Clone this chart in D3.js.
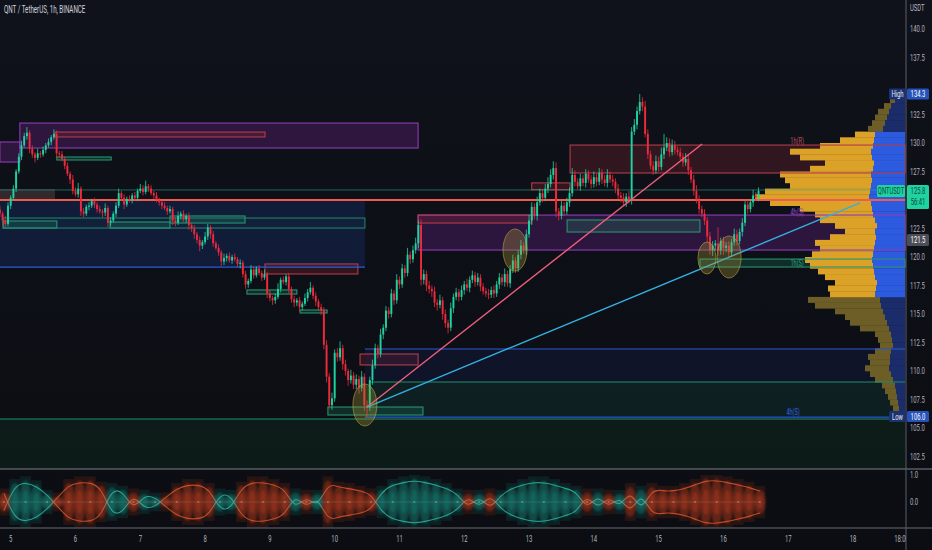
<!DOCTYPE html>
<html><head><meta charset="utf-8">
<script src="https://cdn.jsdelivr.net/npm/d3@7"></script>
<style>
html,body{margin:0;padding:0;background:#0e1017;overflow:hidden}
svg{display:block}
text{font-family:Roboto,"Liberation Sans",sans-serif}
</style>
</head><body>
<svg id="c" width="932" height="550"></svg>
<script>
// ---------------- DATA ----------------
const title = "QNT / TetherUS, 1h, BINANCE";
const firstHour = -4;          // first candle: day 4, 20:00 (hours from day 5 00:00)
const firstOpen = 124.2;
const closes = [
123.8,123.2,122.9,124.5,125.2,126.0,127.5,128.8,129.8,130.6,130.9,129.5,
129.0,128.7,129.1,129.0,129.4,129.8,130.1,130.5,130.8,129.1,129.0,128.6,
128.0,127.3,126.8,125.8,125.5,126.0,124.0,123.8,124.4,124.5,124.9,124.6,
124.2,124.0,123.9,124.3,123.0,123.2,123.8,124.5,125.6,125.2,124.6,125.1,
125.0,125.4,125.2,125.8,126.0,125.7,126.2,126.0,125.6,125.4,125.0,124.8,
124.5,124.3,124.0,124.2,123.2,123.0,123.6,123.8,123.3,123.6,122.8,122.5,
122.0,121.5,121.0,121.3,121.8,122.6,122.0,121.2,120.8,120.4,119.6,119.9,
120.1,119.7,120.0,119.8,119.4,119.5,118.5,117.6,117.9,118.9,118.4,119.0,
118.6,118.2,118.5,116.8,116.4,116.2,116.5,117.2,118.0,117.8,118.3,117.2,
116.3,116.0,116.2,115.6,115.9,116.4,116.9,117.3,116.6,116.1,115.6,115.3,
112.3,109.5,107.0,107.6,111.6,111.2,112.0,110.6,110.0,109.2,109.6,108.8,
109.3,108.5,109.5,107.0,106.8,109.2,110.5,112.0,111.5,113.2,113.8,115.3,
115.0,116.8,116.2,118.0,117.6,119.0,118.6,120.2,119.8,120.6,121.2,122.8,
118.0,118.5,117.5,117.2,117.0,116.0,115.8,116.2,115.0,114.2,113.8,115.5,
116.5,116.9,116.5,117.1,117.6,117.3,118.0,118.4,117.8,118.2,117.4,117.0,
116.8,116.7,117.1,116.8,117.6,118.2,117.8,118.5,117.7,118.9,119.7,119.0,
120.2,121.0,120.6,122.0,123.2,124.4,123.6,124.8,125.6,125.2,126.0,126.4,
127.2,127.8,124.0,123.6,124.5,124.0,124.8,125.6,127.2,126.6,126.2,126.9,
126.5,127.3,126.8,126.4,127.0,126.6,127.4,126.8,126.5,127.2,126.8,126.6,
126.0,125.4,125.2,124.8,125.3,125.0,131.0,131.6,132.8,133.6,133.2,130.8,
129.0,128.0,127.6,128.4,127.9,129.0,129.6,130.0,129.2,129.8,129.4,129.2,
128.8,128.3,128.6,127.6,126.8,125.8,125.0,124.2,123.8,123.2,121.8,120.6,
121.0,121.2,120.6,121.4,120.8,121.0,120.4,121.3,122.0,121.4,122.2,123.0,
124.6,124.2,124.8,125.4,125.2,125.8
];
// upper / lower wick lengths, in tenths of a USDT
const wickHi = [
3,2,4,3,2,3,2,3,4,3,5,2, 3,2,4,2,3,2,3,2,4,3,2,3, 2,3,2,4,3,5,2,3,2,3,2,3,
2,3,2,4,2,3,2,3,4,2,3,2, 3,2,3,2,4,3,5,2,3,2,3,2, 2,3,2,3,2,3,4,2,3,2,3,2,
3,2,3,2,4,3,2,3,2,3,2,4, 2,3,2,3,2,3,2,3,2,4,3,2, 3,2,4,2,3,2,3,5,2,3,2,3,
2,3,2,3,2,4,3,5,2,3,2,3, 3,4,3,5,3,4,6,3,4,2,5,3, 4,3,5,3,4,3,5,4,3,5,3,4,
3,4,3,5,3,4,3,6,3,4,5,4, 5,4,3,4,3,4,3,5,3,4,3,5, 3,4,3,4,3,5,3,4,3,4,3,3,
3,4,3,4,3,4,3,5,3,4,5,3, 4,5,3,4,5,4,3,5,4,3,4,6, 5,6,5,3,4,3,4,5,6,4,3,4,
3,4,3,4,5,3,4,3,4,5,3,4, 3,4,3,4,3,5,4,5,4,7,4,5, 4,3,4,5,4,6,12,5,4,5,4,3,
4,3,5,4,3,4,5,4,3,4,3,4, 4,3,14,3,4,3,4,3,5,4,3,4, 3,4,3,5,3,3
];
const wickLo = [
3,4,3,2,3,2,3,2,3,2,3,4, 3,4,2,3,2,3,2,3,2,4,3,2, 3,2,4,3,2,3,4,3,2,3,2,3,
3,2,4,3,4,3,2,3,2,3,4,2, 2,3,2,3,2,3,2,3,2,3,2,3, 3,2,3,2,4,3,2,3,2,3,4,3,
4,3,5,3,2,3,4,3,2,3,4,3, 3,2,3,2,3,4,3,4,3,2,3,2, 2,3,2,4,3,4,3,2,3,2,3,4,
3,4,3,4,3,2,3,2,3,4,3,4, 4,5,3,4,3,4,3,5,4,5,3,4, 4,5,3,5,8,3,4,3,4,3,4,3,
4,3,4,3,4,3,4,3,4,3,3,4, 5,4,5,4,5,4,5,3,5,4,5,3, 4,3,4,3,4,3,4,3,4,3,4,3,
3,4,3,4,3,4,3,4,3,4,3,4, 3,4,3,4,3,4,3,4,3,4,3,4, 3,4,5,4,3,4,3,4,3,4,3,4,
3,4,3,4,3,4,3,4,3,4,3,4, 4,3,4,3,4,3,4,3,4,3,4,3, 4,3,4,3,4,3,4,3,4,3,4,3,
3,4,3,4,3,4,3,4,3,4,5,4, 5,4,5,4,6,4,5,4,3,4,3,4, 3,4,3,4,3,3
];

// supply / demand zones: time in hours from day 5 00:00, price in USDT
const zoneBoxes = [
  {t0:3.4,  t1:150.9, p0:129.56, p1:131.75, k:"purple"},
  {t0:-4,   t1:3.4,   p0:128.33, p1:130.09, k:"purple"},
  {t0:16.4, t1:94.2,  p0:130.53, p1:130.96, k:"red"},
  {t0:17.1, t1:37.2,  p0:128.51, p1:128.77, k:"green"},
  {t0:-4,   t1:16.4,  p0:125.0,  p1:125.96, k:"brown"},
  {t0:-4,   t1:131.2, p0:119.12, p1:124.91, k:"blue"},
  {t0:-2.8, t1:131.2, p0:122.54, p1:123.42, k:"greenLine"},
  {t0:-2.8, t1:17.1,  p0:122.54, p1:123.16, k:"green"},
  {t0:36.8, t1:59,    p0:122.54, p1:123.07, k:"green"},
  {t0:59,   t1:86.8,  p0:122.98, p1:123.6,  k:"green"},
  {t0:94.2, t1:128.6, p0:118.51, p1:119.39, k:"red"},
  {t0:87.5, t1:106,   p0:116.75, p1:117.11, k:"green"},
  {t0:107.2,t1:117.2, p0:115.09, p1:115.35, k:"green"},
  {t0:117.5,t1:152.7, p0:106.14, p1:106.84, k:"green"},
  {t0:129.4,t1:150.9, p0:110.53, p1:111.49, k:"red"},
  {t0:131.2,t1:331.3, p0:109.04, p1:111.93, k:"navy"},
  {t0:133,  t1:331.3, p0:106.05, p1:109.04, k:"teal"},
  {t0:-4,   t1:331.3, p0:101.0,  p1:105.79, k:"darkgreen"},
  {t0:150.9,t1:331.3, p0:120.61, p1:123.68, k:"purple"},
  {t0:150.9,t1:193,   p0:122.98, p1:123.68, k:"red"},
  {t0:193,  t1:207.2, p0:125.9,  p1:126.5,  k:"red"},
  {t0:207.2,t1:331.3, p0:127.37, p1:129.82, k:"red"},
  {t0:206.1,t1:255.3, p0:122.19, p1:123.25, k:"green"},
  {t0:255.3,t1:331.3, p0:119.12, p1:119.82, k:"green"}
];
const levelLines = [
  {t0:-4,   t1:325.7, p:125.88, k:"teal"},
  {t0:-4,   t1:331.3, p:125.0,  k:"salmon"},
  {t0:-4,   t1:131.2, p:119.12, k:"blue"},
  {t0:131.2,t1:331.3, p:111.93, k:"blue"},
  {t0:133,  t1:331.3, p:109.04, k:"green"},
  {t0:131.2,t1:331.3, p:105.96, k:"blue"},
  {t0:-4,   t1:331.3, p:105.79, k:"green"}
];
const zoneLabels = [
  {t:291.3, p:130.18, text:"1h(R)", k:"red"},
  {t:291.3, p:123.95, text:"4h(S)", k:"purple"},
  {t:291.3, p:119.47, text:"1h(S)", k:"green"},
  {t:289.8, p:106.40, text:"4h(S)", k:"blue"}
];
const trendLines = [
  {t0:132.0, p0:106.84, t1:256.1, p1:129.91, k:"pink"},
  {t0:132.0, p0:106.84, t1:314.6, p1:124.74, k:"cyan"}
];
const highlights = [
  {t:131.2, p:107.02, s:"L"},
  {t:186.8, p:120.61, s:"L"},
  {t:257.9, p:119.91, s:"S"},
  {t:266.1, p:120.00, s:"L"}
];

// volume profile, rows of 0.5 USDT from 106.0 up
const vpStart = 106.0, vpStep = 0.5;
const vpTotal = [10,12,15,17,20,23,30,35,40,35,37,30,25,27,30,45,55,60,70,90,97,75,77,70,80,87,95,100,93,85,90,75,60,70,85,90,105,135,150,140,115,120,125,95,80,105,115,85,65,50,37,33,30,27,21,15,10];
const vpBlue  = [5,6,7,8,9,10,12,14,16,15,15,14,12,13,14,16,18,20,22,24,25,30,29,28,30,31,32,33,32,31,30,29,30,28,30,32,33,34,36,35,34,33,34,32,31,33,34,32,31,30,22,20,18,16,14,10,7];
const vaLow = 116.5, vaHigh = 131.0;
const sessionHigh = 134.3, sessionLow = 106.0;
const lastPrice = 125.8, countdown = "56:41", markPrice = 121.5;

// oscillator (4-hour blocks), + teal / - red
const oscBlock = 4;
const osc = [-0.35,0.7,0.8,0.65,0.3,-0.2,-0.7,-0.8,-0.8,-0.6,0.55,0.45,-0.35,0.3,0.2,-0.2,-0.55,-0.7,-0.7,-0.55,0.35,0.3,-0.6,-0.8,-0.8,-0.7,-0.55,0.35,-0.3,0.3,-0.8,-0.6,-0.55,-0.45,-0.35,0.45,0.7,0.8,0.88,0.8,0.7,0.55,0.35,-0.3,0.3,-0.35,0.3,0.55,0.7,0.8,0.8,0.7,0.55,0.45,-0.35,0.35,-0.3,0.3,-0.55,0.45,-0.55,-0.45,-0.45,-0.55,-0.7,-0.88,-0.88,-0.8,-0.7,-0.6,-0.45];

const priceTicks = [102.5,105.0,107.5,110.0,112.5,115.0,117.5,120.0,122.5,125.0,127.5,130.0,132.5,135.0,137.5,140.0];
const timeTickHours = [0,24,48,72,96,120,144,168,192,216,240,264,288,312,330];
const timeTickLabels = ["5","6","7","8","9","10","11","12","13","14","15","16","17","18","18:00"];
const oscTicks = [0.0, 1.0];

// ---------------- DRAW ----------------
const svg = d3.select("#c");
const W = 932, H = 550, axisX = 906, mainBot = 469, indBot = 528;
const FS = 9.5;
const x = d3.scaleLinear().domain([0, 24]).range([10.7, 10.7 + 24 * 2.6997]);
const y = d3.scaleLinear().domain([102.5, 140]).range([456.5, 29]);
const yi = d3.scaleLinear().domain([0, 1]).range([502, 475]);
const vx = d3.scaleLinear().domain([0, 150]).range([axisX - 1, axisX - 151]);

const defs = svg.append("defs");
defs.append("clipPath").attr("id","clipMain").append("rect").attr("x",0).attr("y",0).attr("width",axisX).attr("height",mainBot);
defs.append("clipPath").attr("id","clipInd").append("rect").attr("x",0).attr("y",mainBot+1).attr("width",axisX).attr("height",indBot-mainBot-1);
defs.append("clipPath").attr("id","clipTime").append("rect").attr("x",0).attr("y",indBot).attr("width",axisX).attr("height",H-indBot);
const bg = defs.append("linearGradient").attr("id","bgGrad").attr("x1",0).attr("y1",0).attr("x2",0).attr("y2",1);
bg.append("stop").attr("offset","0%").attr("stop-color","#10121b");
bg.append("stop").attr("offset","100%").attr("stop-color","#0b0d12");
const blur = defs.append("filter").attr("id","soft").attr("x","-5%").attr("y","-20%").attr("width","110%").attr("height","140%");
blur.append("feGaussianBlur").attr("stdDeviation",1.3);

svg.append("rect").attr("width",W).attr("height",H).attr("fill","url(#bgGrad)");

const boxStyle = {
  purple:{fill:"rgba(120,38,150,0.30)", stroke:"#8d3cb4"},
  red:{fill:"rgba(140,40,52,0.28)", stroke:"#b03d4c"},
  green:{fill:"rgba(30,150,115,0.22)", stroke:"#27946f"},
  greenLine:{fill:"rgba(30,150,115,0.04)", stroke:"#247f63"},
  brown:{fill:"rgba(105,80,80,0.40)", stroke:"none"},
  blue:{fill:"rgba(28,55,135,0.30)", stroke:"none"},
  navy:{fill:"rgba(24,42,110,0.22)", stroke:"none"},
  teal:{fill:"rgba(25,95,85,0.22)", stroke:"none"},
  darkgreen:{fill:"rgba(14,55,38,0.32)", stroke:"none"}
};
const lineStyle = {
  teal:{c:"rgba(40,170,140,0.55)", w:1},
  salmon:{c:"#ef5b4d", w:2},
  blue:{c:"#2b5bd6", w:1.2},
  green:{c:"#1f8f6a", w:1.1}
};
const labelColor = {red:"#b9505e", purple:"#9b4dc9", green:"#2aa87c", blue:"#2f63e0"};

const main = svg.append("g").attr("clip-path","url(#clipMain)");

// zone fills
main.append("g").selectAll("rect").data(zoneBoxes).join("rect")
  .attr("x", d => x(d.t0)).attr("width", d => x(d.t1) - x(d.t0))
  .attr("y", d => y(d.p1)).attr("height", d => y(d.p0) - y(d.p1))
  .attr("fill", d => boxStyle[d.k].fill);

// volume profile
const vpRows = vpTotal.map((v, i) => ({p: vpStart + i * vpStep, total: v, blue: vpBlue[i]}));
const inVA = d => d.p >= vaLow && d.p < vaHigh;
const vp = main.append("g");
vp.selectAll("rect.gold").data(vpRows).join("rect").attr("class","gold")
  .attr("x", d => vx(d.total)).attr("width", d => vx(d.blue) - vx(d.total))
  .attr("y", d => y(d.p + vpStep)).attr("height", d => y(d.p) - y(d.p + vpStep) + 0.3)
  .attr("fill", d => inVA(d) ? "#dca228" : "#6d5d26");
vp.selectAll("rect.blu").data(vpRows).join("rect").attr("class","blu")
  .attr("x", d => vx(d.blue)).attr("width", d => vx(0) - vx(d.blue))
  .attr("y", d => y(d.p + vpStep)).attr("height", d => y(d.p) - y(d.p + vpStep) + 0.3)
  .attr("fill", d => inVA(d) ? "#2c5be0" : "#1a2c6a");

// zone borders
main.append("g").selectAll("rect").data(zoneBoxes.filter(d => boxStyle[d.k].stroke !== "none")).join("rect")
  .attr("x", d => x(d.t0)).attr("width", d => x(d.t1) - x(d.t0))
  .attr("y", d => y(d.p1)).attr("height", d => y(d.p0) - y(d.p1))
  .attr("fill", "none").attr("stroke", d => boxStyle[d.k].stroke).attr("stroke-width", 1.1);

// level lines
main.append("g").selectAll("line").data(levelLines).join("line")
  .attr("x1", d => x(d.t0)).attr("x2", d => x(d.t1))
  .attr("y1", d => y(d.p)).attr("y2", d => y(d.p))
  .attr("stroke", d => lineStyle[d.k].c).attr("stroke-width", d => lineStyle[d.k].w);

// candles
const candles = [];
let prev = firstOpen;
for (let i = 0; i < closes.length; i++) {
  const o = prev, c = closes[i];
  const wh = (wickHi[i] ?? 3) / 10, wl = (wickLo[i] ?? 3) / 10;
  candles.push({h: firstHour + i, o, c, hi: Math.max(o, c) + wh, lo: Math.min(o, c) - wl});
  prev = c;
}
const up = "#1fd3a0", dn = "#ee2a3c";
const cg = main.append("g");
cg.selectAll("line").data(candles).join("line")
  .attr("x1", d => x(d.h)).attr("x2", d => x(d.h))
  .attr("y1", d => y(d.hi)).attr("y2", d => y(d.lo))
  .attr("stroke", d => d.c >= d.o ? up : dn).attr("stroke-width", 0.8);
cg.selectAll("rect").data(candles).join("rect")
  .attr("x", d => x(d.h) - 0.95).attr("width", 1.9)
  .attr("y", d => y(Math.max(d.o, d.c)))
  .attr("height", d => Math.max(1, Math.abs(y(d.o) - y(d.c))))
  .attr("fill", d => d.c >= d.o ? up : dn);

// trend lines
const tlColor = {pink:"#ee5f7c", cyan:"#35aee0"};
main.append("g").selectAll("line").data(trendLines).join("line")
  .attr("x1", d => x(d.t0)).attr("y1", d => y(d.p0))
  .attr("x2", d => x(d.t1)).attr("y2", d => y(d.p1))
  .attr("stroke", d => tlColor[d.k]).attr("stroke-width", 1.4);

// highlight ellipses
main.append("g").selectAll("ellipse").data(highlights).join("ellipse")
  .attr("cx", d => x(d.t)).attr("cy", d => y(d.p))
  .attr("rx", d => d.s === "L" ? 12 : 9).attr("ry", d => d.s === "L" ? 21 : 16)
  .attr("fill", "rgba(165,150,55,0.33)").attr("stroke", "rgba(190,175,70,0.55)").attr("stroke-width", 1);

// zone labels
main.append("g").selectAll("text").data(zoneLabels).join("text")
  .attr("x", d => x(d.t)).attr("y", d => y(d.p)).attr("dy", "0.35em")
  .attr("text-anchor", "middle").attr("font-size", 9)
  .attr("fill", d => labelColor[d.k]).text(d => d.text);

// ---------- oscillator pane ----------
const ind = svg.append("g").attr("clip-path","url(#clipInd)");
const oscData = osc.map((v, i) => ({xc: x(firstHour + i * oscBlock + (oscBlock - 1) / 2), v}));
const teal = "#1a9f90", orange = "#e2461e";
const grad = defs.append("linearGradient").attr("id","oscGrad").attr("gradientUnits","userSpaceOnUse")
  .attr("x1",0).attr("x2",axisX).attr("y1",0).attr("y2",0);
oscData.forEach(d => grad.append("stop").attr("offset", d.xc / axisX).attr("stop-color", d.v >= 0 ? "#2bc4b0" : "#f0582a"));
const bandW = x(oscBlock) - x(0);
ind.selectAll("rect.band").data(oscData).join("rect").attr("class","band")
  .attr("x", d => d.xc - bandW / 2).attr("width", bandW)
  .attr("y", d => yi(Math.min(1, Math.abs(d.v) + 0.15))).attr("height", d => 2 * (yi(0) - yi(Math.min(1, Math.abs(d.v) + 0.15))))
  .attr("fill", d => d.v >= 0 ? teal : orange).attr("opacity", 0.13);
const blobs = ind.append("g").attr("filter","url(#soft)");
blobs.selectAll("ellipse.o").data(oscData).join("ellipse").attr("class","o")
  .attr("cx", d => d.xc).attr("cy", yi(0)).attr("rx", 6)
  .attr("ry", d => yi(0) - yi(Math.abs(d.v)))
  .attr("fill", d => d.v >= 0 ? teal : orange).attr("opacity", 0.33);
blobs.selectAll("ellipse.i").data(oscData).join("ellipse").attr("class","i")
  .attr("cx", d => d.xc).attr("cy", yi(0)).attr("rx", 3.5)
  .attr("ry", d => (yi(0) - yi(Math.abs(d.v))) * 0.55)
  .attr("fill", d => d.v >= 0 ? teal : orange).attr("opacity", 0.3);
const lineUp = d3.line().x(d => d.xc).y(d => yi(d.v * 0.9)).curve(d3.curveBasis);
const lineDn = d3.line().x(d => d.xc).y(d => yi(-d.v * 0.9)).curve(d3.curveBasis);
ind.append("path").attr("d", lineUp(oscData)).attr("fill","none").attr("stroke","url(#oscGrad)").attr("stroke-width",1.1).attr("opacity",0.75);
ind.append("path").attr("d", lineDn(oscData)).attr("fill","none").attr("stroke","url(#oscGrad)").attr("stroke-width",1.1).attr("opacity",0.75);
ind.append("line").attr("x1",0).attr("x2",oscData[oscData.length-1].xc).attr("y1",yi(0)).attr("y2",yi(0))
  .attr("stroke","rgba(150,150,160,0.3)").attr("stroke-width",0.8);
ind.selectAll("circle").data(oscData.filter((d,i) => i % 2 === 0)).join("circle")
  .attr("cx", d => d.xc).attr("cy", yi(0)).attr("r", 1.1).attr("fill", "rgba(170,170,180,0.5)");

// ---------- separators ----------
svg.append("line").attr("x1",0).attr("x2",W).attr("y1",mainBot).attr("y2",mainBot).attr("stroke","#7d808a").attr("stroke-width",1);
svg.append("line").attr("x1",0).attr("x2",W).attr("y1",indBot).attr("y2",indBot).attr("stroke","#6a6d77").attr("stroke-width",1);
svg.append("line").attr("x1",axisX).attr("x2",axisX).attr("y1",0).attr("y2",H).attr("stroke","#5c5f69").attr("stroke-width",1);

// ---------- right price axis ----------
// tick labels that sit under a price tag are hidden, as on the reference
const tagPrices = [sessionHigh, sessionLow, lastPrice, markPrice];
const visibleTicks = priceTicks.filter(p => tagPrices.every(q => Math.abs(y(p) - y(q)) > 9));
const ax = svg.append("g");
ax.selectAll("text.tick").data(visibleTicks).join("text").attr("class","tick")
  .attr("x", axisX + 4).attr("y", d => y(d)).attr("dy","0.35em")
  .attr("font-size", FS).attr("fill", "#b2b5be").text(d => d.toFixed(1));
ax.append("text").attr("x", axisX + 4).attr("y", 11).attr("font-size", FS).attr("fill","#b2b5be").text("USDT");

function tag(g, x0, w, yc, h, fill, txt, tcol) {
  g.append("rect").attr("x", x0).attr("y", yc - h / 2).attr("width", w).attr("height", h).attr("rx", 1.5).attr("fill", fill);
  g.append("text").attr("x", x0 + w / 2).attr("y", yc).attr("dy","0.35em").attr("text-anchor","middle")
    .attr("font-size", FS).attr("fill", tcol).text(txt);
}
tag(svg, 889, 17, y(sessionHigh), 11, "#1c3270", "High", "#e6e9f2");
tag(svg, axisX + 1, 22, y(sessionHigh), 11, "#2552b8", sessionHigh.toFixed(1), "#ffffff");
tag(svg, 889, 17, y(sessionLow), 11, "#1c3270", "Low", "#e6e9f2");
tag(svg, axisX + 1, 22, y(sessionLow), 11, "#2552b8", sessionLow.toFixed(1), "#ffffff");
tag(svg, axisX + 1, 22, y(markPrice), 12, "#4b4e58", markPrice.toFixed(1), "#ffffff");
tag(svg, 877, 28, y(lastPrice), 12, "#1fd3a0", "QNTUSDT", "#0b4a3b");
svg.append("rect").attr("x", axisX + 1).attr("y", y(lastPrice) - 6).attr("width", 22).attr("height", 24).attr("rx",1.5).attr("fill","#1fd3a0");
svg.append("text").attr("x", axisX + 12).attr("y", y(lastPrice)).attr("dy","0.35em").attr("text-anchor","middle").attr("font-size",FS).attr("fill","#0b4a3b").text(lastPrice.toFixed(1));
svg.append("text").attr("x", axisX + 12).attr("y", y(lastPrice) + 11).attr("dy","0.35em").attr("text-anchor","middle").attr("font-size",FS).attr("fill","#0b4a3b").text(countdown);

// oscillator axis
svg.append("g").selectAll("text").data(oscTicks).join("text")
  .attr("x", axisX + 4).attr("y", d => yi(d)).attr("dy","0.35em")
  .attr("font-size", FS).attr("fill", "#b2b5be").text(d => d.toFixed(1));

// ---------- time axis ----------
svg.append("g").attr("clip-path","url(#clipTime)").selectAll("text").data(timeTickHours).join("text")
  .attr("x", d => x(d)).attr("y", 539).attr("dy","0.35em").attr("text-anchor","middle")
  .attr("font-size", FS).attr("fill", "#b2b5be").text((d, i) => timeTickLabels[i]);

// title
svg.append("text").attr("x", 4).attr("y", 13).attr("font-size", 10).attr("fill", "#d1d4dc").text(title);

// condensed lettering like the reference
svg.selectAll("text").each(function () {
  const w = this.getComputedTextLength();
  if (w > 0) d3.select(this).attr("textLength", w * 0.62).attr("lengthAdjust", "spacingAndGlyphs");
});
</script>
</body></html>
